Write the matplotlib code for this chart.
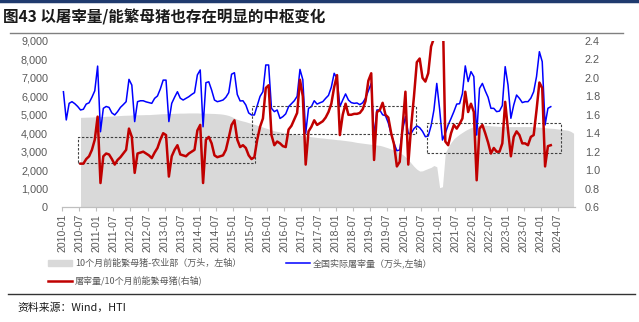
import numpy as np
import matplotlib

matplotlib.use("Agg")

import matplotlib.pyplot as plt
from matplotlib.lines import Line2D
from matplotlib.patches import Patch, Rectangle
from matplotlib.ticker import FuncFormatter


CJK = ["Noto Sans CJK SC", "DejaVu Sans"]
NUM = ["Liberation Sans", "DejaVu Sans"]

TITLE = "图43 以屠宰量/能繁母猪也存在明显的中枢变化"
SOURCE = "资料来源：Wind，HTI"

# monthly series, index 0 = 2010-01
SLAUGHTER_START = 0      # 2010-01 .. 2024-04
RATIO_START = 6          # 2010-07 .. 2024-04
SOWS_START = 6           # 2010-07 .. 2024-12

# 全国实际屠宰量（万头）
slaughter = [
    6250, 4720, 5620, 5710, 5600, 5450, 5260, 5300, 5580, 5650, 5950, 6300,
    7640, 4080, 5350, 5450, 5400, 5100, 4990, 5170, 5400, 5550, 5710, 6920,
    6610, 4630, 5710, 5760, 5760, 5700, 5660, 5620, 5890, 6020, 6400, 6880,
    6880, 4630, 5620, 5950, 6250, 5900, 5800, 5890, 5980, 6100, 6200, 7160,
    7430, 4350, 6740, 6790, 6340, 5800, 5710, 5750, 5800, 5950, 6200, 7200,
    7280, 6100, 5750, 5760, 5530, 5100, 4990, 4990, 5500, 6000, 6250, 7700,
    7700, 5350, 5170, 5260, 4800, 4900, 5050, 5440, 5600, 5760, 6000, 7460,
    6900, 3990, 5350, 5440, 5760, 5580, 5650, 5710, 5890, 6050, 6500, 7250,
    6970, 5440, 5800, 6130, 5800, 5660, 5620, 5640, 5550, 5650, 5900, 6300,
    6700, 3800, 5260, 5260, 5000, 4950, 4550, 3950, 3450, 3050, 3090, 4170,
    4900, 3990, 3990, 4250, 4400, 4300, 4100, 3810, 3850, 4400, 5260, 6700,
    5300, 3630, 4000, 4450, 4800, 5170, 5580, 5600, 6150, 7650, 6800, 7340,
    7070, 3900, 6430, 6700, 6300, 5950, 5350, 5350, 5170, 5200, 5500, 7610,
    6610, 4810, 5530, 6070, 5890, 5660, 5710, 5710, 5900, 6250, 7070, 8420,
    7880, 4450, 5350, 5440,
]

# 屠宰量/10个月前能繁母猪
ratio = [
    1.07, 1.07, 1.12, 1.15, 1.22, 1.33,
    1.58, 0.86, 1.15, 1.18, 1.17, 1.12, 1.06, 1.11, 1.14, 1.18, 1.22, 1.45,
    1.36, 0.97, 1.18, 1.19, 1.20, 1.18, 1.16, 1.13, 1.19, 1.24, 1.33, 1.40,
    1.38, 0.93, 1.15, 1.22, 1.27, 1.17, 1.16, 1.15, 1.18, 1.20, 1.22, 1.43,
    1.49, 0.86, 1.33, 1.36, 1.29, 1.16, 1.14, 1.15, 1.16, 1.22, 1.35, 1.49,
    1.54, 1.33, 1.25, 1.27, 1.24, 1.16, 1.12, 1.14, 1.33, 1.47, 1.56, 1.89,
    1.92, 1.38, 1.27, 1.31, 1.29, 1.26, 1.25, 1.44, 1.48, 1.55, 1.62, 1.98,
    1.80, 1.06, 1.42, 1.47, 1.54, 1.49, 1.51, 1.53, 1.57, 1.63, 1.72, 1.90,
    2.03, 1.38, 1.60, 1.72, 1.60, 1.60, 1.61, 1.61, 1.62, 1.66, 1.75, 1.97,
    2.05, 1.11, 1.63, 1.65, 1.73, 1.60, 1.57, 1.40, 1.28, 1.04, 1.09, 1.47,
    1.85, 1.06, 1.47, 1.80, 2.17, 2.21, 2.00, 1.96, 2.05, 2.34, 2.43, 2.95,
    4.80, 2.90, 1.31, 1.27, 1.40, 1.49, 1.45, 1.50, 1.56, 1.85, 1.63, 1.72,
    1.63, 0.89, 1.45, 1.49, 1.40, 1.30, 1.18, 1.24, 1.20, 1.20, 1.29, 1.74,
    1.43, 1.15, 1.36, 1.42, 1.38, 1.29, 1.29, 1.27, 1.36, 1.38, 1.65, 1.95,
    1.89, 1.04, 1.26, 1.27,
]

# 10个月前能繁母猪-农业部（万头）
sows = [
    4860, 4865, 4870, 4875, 4880, 4890,
    4900, 4905, 4910, 4920, 4925, 4930, 4940, 4950, 4960, 4970, 4975, 4980,
    4990, 4995, 5000, 5000, 5005, 5010, 5010, 5020, 5030, 5040, 5050, 5060,
    5060, 5070, 5075, 5080, 5085, 5090, 5090, 5095, 5100, 5100, 5100, 5100,
    5090, 5090, 5085, 5080, 5075, 5070, 5060, 5050, 5030, 5000, 4960, 4900,
    4820, 4750, 4700, 4660, 4620, 4570, 4530, 4480, 4430, 4380, 4330, 4280,
    4230, 4180, 4130, 4100, 4070, 4040, 4010, 3990, 3960, 3940, 3920, 3900,
    3870, 3850, 3830, 3810, 3790, 3770, 3750, 3740, 3720, 3700, 3690, 3670,
    3650, 3640, 3620, 3600, 3580, 3560, 3530, 3500, 3480, 3460, 3440, 3420,
    3400, 3380, 3360, 3340, 3300, 3250, 3200, 3140, 3080, 3010, 2940, 2850,
    2720, 2560, 2380, 2200, 2050, 1950, 1960, 2030, 2090, 2150, 2250, 2180,
    1050, 1100, 2950, 3250, 3500, 3700, 3830, 3950, 4050, 4150, 4230, 4300,
    4360, 4410, 4440, 4450, 4440, 4420, 4400, 4390, 4380, 4370, 4370, 4360,
    4360, 4360, 4360, 4360, 4360, 4360, 4360, 4360, 4360, 4350, 4340, 4330,
    4320, 4300, 4280, 4270, 4260, 4240, 4220, 4200, 4180, 4160, 4100, 4000,
]

TICK_LABELS = [
    "2010-01", "2010-07", "2011-01", "2011-07", "2012-01", "2012-07",
    "2013-01", "2013-07", "2014-01", "2014-07", "2015-01", "2015-07",
    "2016-01", "2016-07", "2017-01", "2017-07", "2018-01", "2018-07",
    "2019-01", "2019-07", "2020-01", "2020-07", "2021-01", "2021-07",
    "2022-01", "2022-07", "2023-01", "2023-07", "2024-01", "2024-07",
]
N_MONTHS = 180

LEGEND_LABELS = [
    "10个月前能繁母猪-农业部（万头，左轴）",
    "屠宰量/10个月前能繁母猪(右轴)",
    "全国实际屠宰量（万头,左轴）",
]

# dashed frames around the ratio's plateaus: (first month, last month, low, high)
PLATEAUS = [
    (5.6, 67.7, 1.08, 1.364),
    (66.7, 124.2, 1.396, 1.70),
    (128.1, 175.1, 1.19, 1.516),
]

GREY = "#d9d9d9"
BLUE = "#0000ff"
RED = "#c00000"
TEXT = "#595959"


def months(start, values):
    # points sit in the middle of each monthly category
    return np.arange(start, start + len(values)) + 0.5


W, H = 639, 322
fig = plt.figure(figsize=(W / 100, H / 100), dpi=100)
ax = fig.add_axes([62 / W, 1 - 207 / H, (575 - 62) / W, (207 - 41) / H])
ax2 = ax.twinx()

ax.fill_between(months(SOWS_START, sows), 0, sows, color=GREY, lw=0)
ax.plot(months(SLAUGHTER_START, slaughter), slaughter, color=BLUE, lw=1.1)
ax2.plot(months(RATIO_START, ratio), ratio, color=RED, lw=1.8)

for x0, x1, lo, hi in PLATEAUS:
    ax2.add_patch(Rectangle((x0, lo), x1 - x0, hi - lo, fill=False,
                            ec="#404040", lw=0.8, ls=(0, (2.2, 1.5))))

ax.set_xlim(0, N_MONTHS)
ax.set_ylim(0, 9000)
ax2.set_ylim(0.6, 2.4)

ax.set_xticks(np.arange(0, 6 * len(TICK_LABELS), 6))
ax.set_xticklabels(TICK_LABELS, rotation=90, fontsize=7.6, color=TEXT,
                   family=NUM)
ax.set_yticks(np.arange(0, 9001, 1000))
ax.yaxis.set_major_formatter(FuncFormatter(lambda v, _: f"{v:,.0f}"))
ax2.set_yticks(np.arange(0.6, 2.41, 0.2))
ax2.yaxis.set_major_formatter(FuncFormatter(lambda v, _: f"{v:.1f}"))

for a in (ax, ax2):
    for side in ("top", "left", "right"):
        a.spines[side].set_visible(False)
    a.spines["bottom"].set_color("#bfbfbf")
    for lab in a.get_yticklabels():
        lab.set_family(NUM)
ax.tick_params(axis="x", length=3, color="#bfbfbf", pad=2)
ax.tick_params(axis="y", length=0, labelsize=7.8, labelcolor=TEXT, pad=10)
ax2.tick_params(axis="y", length=0, labelsize=7.8, labelcolor=TEXT, pad=7)

handles = [
    Patch(color=GREY),
    Line2D([], [], color=RED, lw=1.8),
    Line2D([], [], color=BLUE, lw=1.1),
]
fig.legend(handles, LEGEND_LABELS, ncol=2, loc="upper left",
           bbox_to_anchor=(43 / W, 1 - 254 / H), frameon=False,
           prop={"family": CJK, "size": 6.5}, labelcolor=TEXT,
           handlelength=2.7, handleheight=0.6, handletextpad=0.35,
           columnspacing=4.9, labelspacing=0.85, borderpad=0)

# header and footer rules
fig.add_artist(Line2D([0, 1], [1 - 1 / H] * 2, color="#1f3a6e", lw=2.5))
fig.add_artist(Line2D([10 / W, 623 / W], [1 - 33 / H] * 2, color="#808080",
                      lw=1.0))
fig.add_artist(Line2D([8 / W, 635 / W], [1 - 294 / H] * 2, color="#333333",
                      lw=1.0))

fig.text(3 / W, 1 - 17 / H, TITLE, fontsize=11.2, fontweight="bold",
         va="center", ha="left", family=CJK, color="#1a1a1a")
fig.text(17 / W, 1 - 308 / H, SOURCE, fontsize=7.8, va="center", ha="left",
         family=CJK, color="#1a1a1a")

fig.savefig("out.png", dpi=100)
